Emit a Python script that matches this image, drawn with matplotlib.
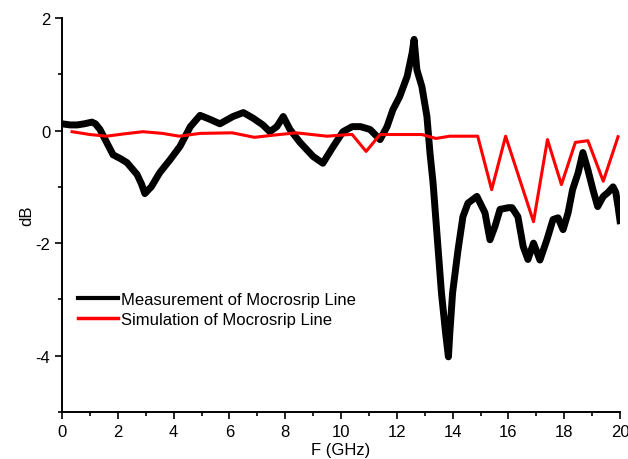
import matplotlib
matplotlib.use("Agg")
import matplotlib.pyplot as plt
from matplotlib.ticker import MultipleLocator

plt.rcParams['font.family'] = ['Liberation Sans', 'DejaVu Sans']
plt.rcParams['axes.unicode_minus'] = False

# Measurement (center of noisy trace)
meas_f = [0.0, 0.3, 0.54, 0.8, 1.07, 1.2, 1.36, 1.6, 1.83, 2.1, 2.33, 2.69, 2.85, 2.97, 3.1, 3.2,
          3.5, 3.87, 4.23, 4.6, 4.95, 5.3, 5.66, 6.13, 6.5, 6.85, 7.2, 7.45, 7.7, 7.93, 8.17,
          8.53, 9.0, 9.35, 9.7, 10.07, 10.4, 10.7, 11.04, 11.4, 11.65, 11.86, 12.1, 12.37,
          12.55, 12.62, 12.72, 12.9, 13.08, 13.19, 13.3, 13.48, 13.6, 13.75, 13.85, 13.9, 14.0,
          14.2, 14.37, 14.55, 14.87, 15.16, 15.34, 15.52, 15.7, 16.0, 16.13, 16.34, 16.53,
          16.7, 16.9, 17.13, 17.38, 17.6, 17.78, 17.96, 18.14, 18.3, 18.5, 18.67, 18.85,
          19.03, 19.2, 19.4, 19.57, 19.75, 19.85, 19.93, 20.0]
meas_db = [0.12, 0.1, 0.1, 0.12, 0.15, 0.12, 0.02, -0.21, -0.43, -0.5, -0.57, -0.78, -0.95, -1.12, -1.05, -1.0,
           -0.75, -0.52, -0.28, 0.07, 0.27, 0.2, 0.12, 0.25, 0.32, 0.22, 0.1, -0.02, 0.07, 0.25, 0.02,
           -0.21, -0.46, -0.58, -0.3, -0.02, 0.07, 0.07, 0.02, -0.16, 0.07, 0.37, 0.6, 0.96,
           1.38, 1.62, 1.08, 0.78, 0.25, -0.4, -0.93, -2.1, -2.88, -3.6, -4.02, -3.6, -2.88,
           -2.1, -1.53, -1.29, -1.17, -1.46, -1.94, -1.7, -1.4, -1.37, -1.37, -1.53, -2.06,
           -2.29, -2.0, -2.3, -1.94, -1.58, -1.55, -1.76, -1.46, -1.05, -0.75, -0.39, -0.7,
           -1.05, -1.35, -1.17, -1.1, -1.0, -1.1, -1.35, -1.6]

# Simulation
sim_f = [0.36, 1.0, 1.6, 2.2, 2.9, 3.6, 4.2, 4.95, 6.1, 6.9, 7.6, 8.4, 9.5, 10.3, 10.4, 10.9,
         11.4, 12.9, 13.4, 13.9, 14.9, 15.4, 15.9, 16.9, 17.4, 17.9, 18.4, 18.85, 19.4, 19.93]
sim_db = [-0.02, -0.07, -0.1, -0.06, -0.02, -0.05, -0.1, -0.05, -0.04, -0.12, -0.08, -0.04, -0.1, -0.07, -0.07, -0.37,
          -0.07, -0.07, -0.14, -0.1, -0.1, -1.05, -0.1, -1.62, -0.16, -0.96, -0.21, -0.18, -0.9, -0.11]

fig = plt.figure(figsize=(6.28, 4.6), dpi=100)
ax = fig.add_axes([62/628, 47/460, 558/628, 394/460])

ax.plot(meas_f, meas_db, color='black', lw=5.0,
        label='Measurement of Mocrosrip Line')
ax.plot(sim_f, sim_db, color='#ff0000', lw=2.2, label='Simulation of Mocrosrip Line')

ax.set_xlim(0, 20)
ax.set_ylim(-5, 2)
ax.xaxis.set_major_locator(MultipleLocator(2))
ax.xaxis.set_minor_locator(MultipleLocator(1))
ax.yaxis.set_major_locator(MultipleLocator(2))
ax.yaxis.set_minor_locator(MultipleLocator(1))
ax.tick_params(which='major', direction='out', length=5, width=1.2, labelsize=12)
ax.tick_params(which='minor', direction='out', length=3, width=1.2)
for s in ['top', 'right']:
    ax.spines[s].set_visible(False)
for s in ['left', 'bottom']:
    ax.spines[s].set_linewidth(1.4)

ax.set_xlabel('F (GHz)', fontsize=12, labelpad=2)
ax.set_ylabel('dB', fontsize=12, labelpad=1)

leg = ax.legend(loc='upper left', bbox_to_anchor=(0.01, 0.33), frameon=False,
                fontsize=12, handlelength=2.4, handletextpad=0.2, labelspacing=0.3,
                borderaxespad=0.2)
for line in leg.get_lines():
    line.set_linewidth(3 if line.get_color() == 'black' else 2.5)

fig.savefig('out.png', dpi=100)
